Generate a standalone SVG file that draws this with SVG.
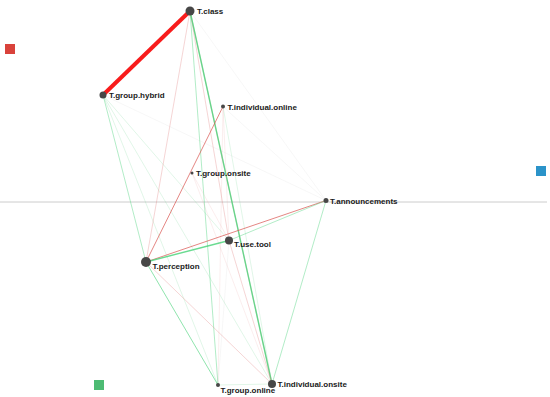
<svg xmlns="http://www.w3.org/2000/svg" width="550" height="397" viewBox="0 0 550 397">
<style>
.g1{stroke:#45d276;stroke-opacity:0.8;stroke-width:1.4;fill:none}
.g2{stroke:#55d483;stroke-opacity:0.45;stroke-width:1;fill:none}
.g3{stroke:#6ad08e;stroke-opacity:0.25;stroke-width:0.8;fill:none}
.r1{stroke:#d9534f;stroke-opacity:0.7;stroke-width:1;fill:none}
.r2{stroke:#e07a7a;stroke-opacity:0.4;stroke-width:0.8;fill:none}
.r3{stroke:#e59a9a;stroke-opacity:0.25;stroke-width:0.7;fill:none}
.f{stroke:#bbbbbb;stroke-opacity:0.2;stroke-width:0.6;fill:none}
.n{fill:#474747}
.t{font-family:"Liberation Sans",Arial,sans-serif;font-size:8px;font-weight:bold;fill:#1a1a1a}
</style>
<rect width="550" height="397" fill="#ffffff"/>
<line x1="0" y1="202" x2="547" y2="202" stroke="#cccccc" stroke-width="1"/>
<rect x="5" y="44" width="10" height="10" fill="#d9423b"/>
<rect x="536" y="166" width="10" height="10" fill="#2b93c9"/>
<rect x="94" y="380" width="10" height="10" fill="#4dbb73"/>
<g id="edges">
<line class="f" x1="103" y1="95" x2="326" y2="200.5"/>
<line class="f" x1="223" y1="106.5" x2="326" y2="200.5"/>
<line class="f" x1="190" y1="11" x2="326" y2="200.5"/>
<line class="g3" x1="103" y1="95" x2="218" y2="385"/>
<line class="g2" x1="103" y1="95" x2="146" y2="262"/>
<line class="g3" x1="103" y1="95" x2="229" y2="240.5"/>
<line class="g3" x1="103" y1="95" x2="272" y2="384"/>
<line class="g2" x1="190" y1="11" x2="218" y2="385"/>
<line class="r2" x1="190" y1="11" x2="146" y2="262"/>
<line class="r2" x1="190" y1="11" x2="229" y2="240.5"/>
<line class="r2" x1="190" y1="11" x2="272" y2="384"/>
<line class="g1" x1="190" y1="11" x2="272" y2="384"/>
<line class="r1" x1="223" y1="106.5" x2="146" y2="262"/>
<line class="r3" x1="223" y1="106.5" x2="229" y2="240.5"/>
<line class="g3" x1="223" y1="106.5" x2="272" y2="384"/>
<line class="r3" x1="223" y1="106.5" x2="218" y2="385"/>
<line class="r3" x1="192" y1="173" x2="229" y2="240.5"/>
<line class="r3" x1="192" y1="173" x2="272" y2="384"/>
<line class="r1" x1="326" y1="200.5" x2="146" y2="262"/>
<line class="g2" x1="326" y1="200.5" x2="229" y2="240.5"/>
<line class="g2" x1="326" y1="200.5" x2="272" y2="384"/>
<line class="g1" x1="229" y1="240.5" x2="146" y2="262"/>
<line class="r2" x1="229" y1="240.5" x2="272" y2="384"/>
<line class="f" x1="229" y1="240.5" x2="218" y2="385"/>
<line class="g1" x1="146" y1="262" x2="218" y2="385" style="stroke-width:1;stroke-opacity:0.6"/>
<line class="r2" x1="146" y1="262" x2="272" y2="384"/>
<line class="g3" x1="218" y1="385" x2="272" y2="384"/>
<line x1="190" y1="11" x2="103" y2="95" stroke="#f81c1c" stroke-width="4"/>
</g>
<g id="n-class"><circle class="n" cx="190" cy="11" r="4.5"/><text class="t" x="197" y="14">T.class</text></g>
<g id="n-group-hybrid"><circle class="n" cx="103" cy="95" r="3.5"/><text class="t" x="109" y="98">T.group.hybrid</text></g>
<g id="n-individual-online"><circle class="n" cx="223" cy="106.5" r="2"/><text class="t" x="227.5" y="109.5">T.individual.online</text></g>
<g id="n-group-onsite"><circle class="n" cx="192" cy="173" r="1.5"/><text class="t" x="196" y="175.5">T.group.onsite</text></g>
<g id="n-announcements"><circle class="n" cx="326" cy="200.5" r="2.5"/><text class="t" x="330" y="203.5">T.announcements</text></g>
<g id="n-use-tool"><circle class="n" cx="229" cy="240.5" r="4"/><text class="t" x="234" y="247">T.use.tool</text></g>
<g id="n-perception"><circle class="n" cx="146" cy="262" r="5"/><text class="t" x="152.5" y="269">T.perception</text></g>
<g id="n-group-online"><circle class="n" cx="218" cy="385" r="2"/><text class="t" x="220.5" y="393">T.group.online</text></g>
<g id="n-individual-onsite"><circle class="n" cx="272" cy="384" r="4"/><text class="t" x="277.5" y="387">T.individual.onsite</text></g>
</svg>
